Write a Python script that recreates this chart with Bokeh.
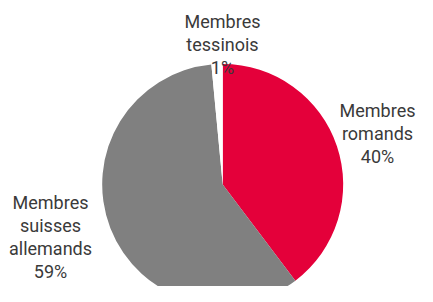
import math
from bokeh.plotting import figure
from bokeh.models import Range1d, ColumnDataSource
from bokeh.core.properties import value
from bokeh.embed import file_html
from bokeh.resources import INLINE

# Data
categories = ["Membres romands", "Membres suisses allemands", "Membres tessinois"]
shares = [39.7, 58.8, 1.5]
pct_labels = ["40%", "59%", "1%"]
label_lines = [["Membres", "romands", "40%"],
               ["Membres", "suisses", "allemands", "59%"],
               ["Membres", "tessinois", "1%"]]
colors = ["#E4003A", "#808080", "#FFFFFF"]

W, H = 417, 286
p = figure(width=W, height=H, output_backend="svg", toolbar_location=None,
           x_range=Range1d(0, W), y_range=Range1d(0, H), min_border=0)
p.axis.visible = False
p.grid.visible = False
p.outline_line_color = None
p.background_fill_color = "white"
p.border_fill_color = "white"

cx, cy, r = 222.2, 102.0, 120.5
total = sum(shares)
starts, ends = [], []
acc = 0.0
for s in shares:
    a0 = math.pi / 2 - 2 * math.pi * acc / total
    acc += s
    a1 = math.pi / 2 - 2 * math.pi * acc / total
    starts.append(a0)
    ends.append(a1)

src = ColumnDataSource(dict(x=[cx] * 3, y=[cy] * 3, start=starts, end=ends,
                            color=colors, cat=categories))
p.wedge(x="x", y="y", radius=r, start_angle="start", end_angle="end",
        direction="clock", fill_color="color", line_color=None, source=src)

# label anchors (x center, y of first line), line spacing
anchors = [(377, 176), (50, 84), (222, 265)]
spacing = 23
tx, ty, tt = [], [], []
for (ax, ay), lines in zip(anchors, label_lines):
    for i, t in enumerate(lines):
        tx.append(ax)
        ty.append(ay - i * spacing)
        tt.append(t)
p.text(x=tx, y=ty, text=tt, text_align="center", text_baseline="middle",
       text_font=value("Roboto"), text_font_size="18px", text_color="#3a3a3a")

open("out.html", "w").write(file_html(p, INLINE))
